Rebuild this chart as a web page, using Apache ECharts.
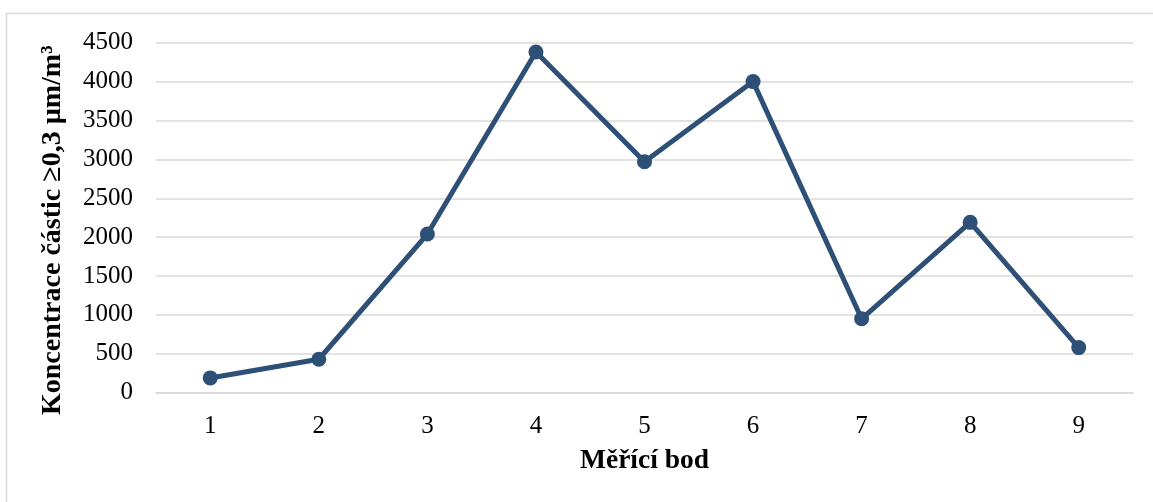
<!DOCTYPE html>
<html>
<head>
<meta charset="utf-8">
<script src="https://cdn.jsdelivr.net/npm/echarts@6/dist/echarts.min.js"></script>
<style>
  html, body { margin: 0; padding: 0; background: #fff; }
  #chart { width: 1153px; height: 502px; }
</style>
</head>
<body>
<div id="chart"></div>
<script>
// Measuring points and particle concentration (>=0.3 µm per m³)
const categories = ['1', '2', '3', '4', '5', '6', '7', '8', '9'];
const concentration = [190, 430, 2040, 4380, 2970, 4000, 950, 2190, 580];

const xTitle = 'Měřící bod';
const yTitle = 'Koncentrace částic ≥0,3 µm/m³';

const serif = '"Liberation Serif", "Times New Roman", serif';
const lineColor = '#2E5077';

const chart = echarts.init(document.getElementById('chart'), null, { renderer: 'canvas' });
chart.setOption({
  backgroundColor: '#ffffff',
  animation: false,
  graphic: [{
    type: 'rect',
    shape: { x: 6.5, y: 13.5, width: 1160, height: 500 },
    style: { fill: 'none', stroke: '#d9d9d9', lineWidth: 1.5 },
    silent: true
  }],
  grid: { left: 156, right: 20, top: 42.7, bottom: 109.3 },
  xAxis: {
    type: 'category',
    data: categories,
    boundaryGap: true,
    axisLine: { show: true, lineStyle: { color: '#d9d9d9', width: 1.5 } },
    axisTick: { show: false },
    axisLabel: { margin: 21, color: '#000', fontFamily: serif, fontSize: 25 },
    name: xTitle,
    nameLocation: 'middle',
    nameGap: 54,
    nameTextStyle: { color: '#000', fontFamily: serif, fontSize: 27.5, fontWeight: 'bold' }
  },
  yAxis: {
    type: 'value',
    min: 0,
    max: 4500,
    interval: 500,
    axisLine: { show: false },
    axisTick: { show: false },
    splitLine: { lineStyle: { color: '#d9d9d9', width: 1.5 } },
    axisLabel: {
      margin: 23, color: '#000', fontFamily: serif, fontSize: 25,
      formatter: (v) => String(v)
    },
    name: yTitle,
    nameLocation: 'middle',
    nameGap: 89,
    nameRotate: 90,
    nameTextStyle: {
      color: '#000', fontFamily: serif, fontSize: 28, fontWeight: 'bold',
      padding: [0, 25, 0, 0]
    }
  },
  series: [{
    type: 'line',
    data: concentration,
    symbol: 'circle',
    symbolSize: 15,
    lineStyle: { color: lineColor, width: 5 },
    itemStyle: { color: lineColor }
  }]
});
</script>
</body>
</html>
